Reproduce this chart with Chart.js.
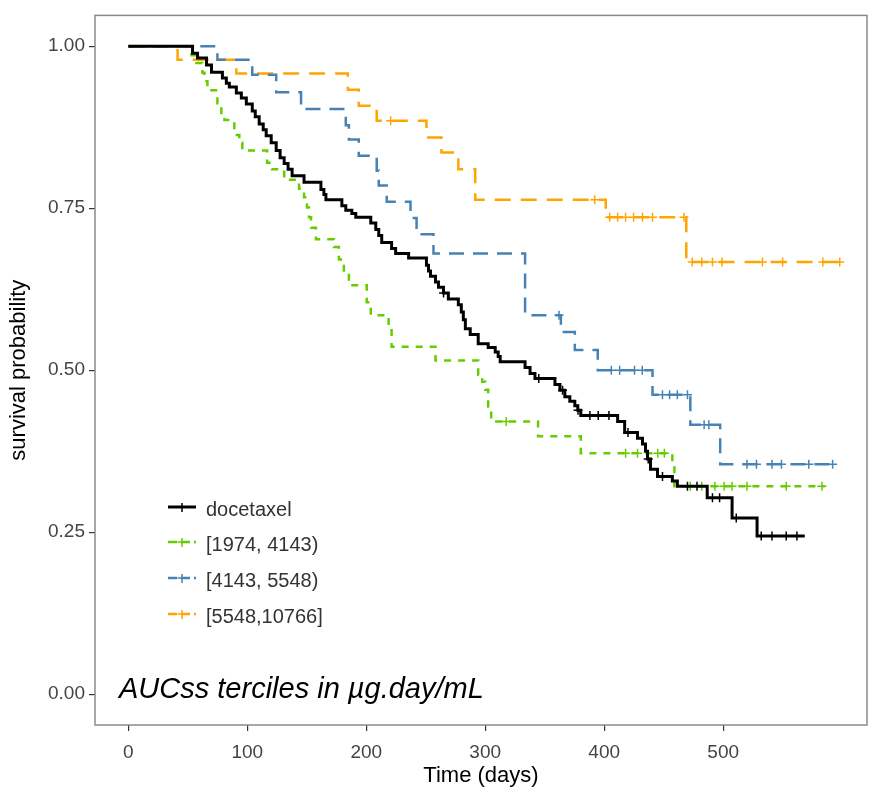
<!DOCTYPE html>
<html>
<head>
<meta charset="utf-8">
<script src="https://cdn.jsdelivr.net/npm/chart.js@4.4.1/dist/chart.umd.min.js"></script>
<style>
  html, body { margin: 0; padding: 0; background: #fff; }
  #wrap { width: 873px; height: 789px; }
</style>
</head>
<body>
<div id="wrap"><canvas id="km" width="873" height="789"></canvas></div>
<script>
// Kaplan-Meier curves: day where each level starts, and the survival level from that day on
var docetaxelTime = [0, 54.0, 58.2, 65.7, 69.9, 79.1, 82.4, 84.9, 90.8, 95.0, 99.2, 104.2, 106.7, 110.0, 113.4,
    115.9, 120.1, 124.3, 127.6, 131.0, 134.3, 137.7, 147.7, 161.9, 164.4, 166.1, 179.5, 182.8, 187.9, 191.2,
    203.8, 208.0, 210.5, 213.0, 221.3, 224.7, 235.6, 250.6, 252.3, 254.0, 258.2, 260.7, 264.9, 269.0, 277.4,
    279.9, 281.6, 283.3, 287.4, 294.1, 302.5, 308.4, 310.9, 312.6, 333.5, 337.7, 341.8, 358.6, 362.8, 366.9,
    371.1, 375.3, 377.8, 380.3, 411.3, 417.2, 428.0, 432.2, 434.7, 436.4, 438.9, 444.8, 457.3, 461.5, 486.6,
    507.5, 528.5];
var docetaxelSurv = [1, 0.989, 0.982, 0.971, 0.960, 0.951, 0.943, 0.937, 0.928, 0.920, 0.911, 0.900, 0.891, 0.880, 0.871,
    0.862, 0.851, 0.839, 0.828, 0.819, 0.810, 0.800, 0.790, 0.779, 0.771, 0.763, 0.754, 0.747, 0.742, 0.736,
    0.727, 0.717, 0.708, 0.697, 0.688, 0.680, 0.673, 0.662, 0.653, 0.645, 0.636, 0.628, 0.619, 0.610, 0.601,
    0.590, 0.578, 0.564, 0.555, 0.541, 0.535, 0.528, 0.521, 0.513, 0.504, 0.495, 0.487, 0.478, 0.469, 0.459,
    0.452, 0.445, 0.438, 0.430, 0.421, 0.404, 0.395, 0.386, 0.375, 0.363, 0.347, 0.336, 0.329, 0.321, 0.303,
    0.272, 0.244];
var docetaxelEnd = 568.6;
var docetaxelCensor = [265, 345, 365, 378, 388, 395, 404, 420, 437, 449, 470, 478, 491, 497, 511, 532, 541, 553, 562];

var lowTime = [0, 53.1, 57.3, 62.3, 64.0, 66.5, 74.9, 78.2, 80.8, 89.1, 93.3, 95.8, 116.7, 120.9, 131.0,
    143.5, 147.7, 150.2, 151.9, 153.6, 157.7, 172.8, 177.0, 181.2, 185.4, 200.4, 203.8, 218.8, 221.3, 258.2,
    294.1, 297.5, 300.0, 302.5, 305.0, 344.4, 380.3, 457.3, 459.0];
var lowSurv = [1, 0.986, 0.974, 0.959, 0.946, 0.932, 0.912, 0.897, 0.886, 0.863, 0.851, 0.839, 0.820, 0.810, 0.794,
    0.780, 0.767, 0.751, 0.736, 0.720, 0.702, 0.690, 0.671, 0.654, 0.631, 0.605, 0.585, 0.567, 0.536, 0.515,
    0.493, 0.482, 0.470, 0.444, 0.421, 0.398, 0.372, 0.356, 0.321];
var lowEnd = 585.4;
var lowCensor = [317.6, 418, 428, 445, 450.6, 472.4, 482, 493, 500.8, 507.5, 520, 553, 583];

var midTime = [0, 74.9, 104.2, 124.3, 145.2, 182.8, 185.4, 193.7, 208.8, 210.5, 217.2, 237.2, 242.3, 256.5,
    333.5, 363.6, 375.3, 394.6, 440.6, 472.4, 497.5];
var midSurv = [1, 0.979, 0.956, 0.929, 0.903, 0.878, 0.856, 0.831, 0.808, 0.785, 0.760, 0.735, 0.710, 0.680,
    0.585, 0.559, 0.531, 0.500, 0.462, 0.416, 0.355];
var midEnd = 593.7;
var midCensor = [362, 406, 413, 425.5, 432, 449, 455, 461.5, 470, 484, 488, 520, 528, 541, 549, 572, 592];

var highTime = [0, 41.4, 90.8, 184.5, 193.7, 208.8, 250.6, 263.2, 277.4, 291.6, 401.3, 469.0];
var highSurv = [1, 0.979, 0.958, 0.933, 0.908, 0.885, 0.859, 0.836, 0.810, 0.763, 0.736, 0.667];
var highEnd = 601.3;
var highCensor = [220.5, 392, 404.6, 411.3, 418, 424.7, 432.2, 440.6, 467, 474, 482, 491, 499, 533, 550, 583.8, 598];

var groupLabels = ['docetaxel', '[1974, 4143)', '[4143, 5548)', '[5548,10766]'];
var xTicks = [0, 100, 200, 300, 400, 500];
var yTicks = [0, 0.25, 0.5, 0.75, 1];

var FONT = '"Liberation Sans", Arial, sans-serif';

// series styles, same order as groupLabels
var styles = [
    { color: '#000000', width: 3, dash: [] },
    { color: '#66CC00', width: 2.5, dash: [7, 7] },
    { color: '#4682B4', width: 2.5, dash: [15, 9] },
    { color: '#FFA500', width: 2.5, dash: [16, 10] }
];

function stepPoints(times, surv, end) {
    var pts = times.map(function(t, i) { return { x: t, y: surv[i] }; });
    pts.push({ x: end, y: surv[surv.length - 1] });
    return pts;
}

// level of a step curve at day t
function survAt(times, surv, t) {
    var s = surv[0];
    for (var i = 0; i < times.length; i++) {
        if (times[i] <= t) s = surv[i];
    }
    return s;
}

function censorPoints(times, surv, censor) {
    return censor.map(function(t) { return { x: t, y: survAt(times, surv, t) }; });
}

var groups = [
    [docetaxelTime, docetaxelSurv, docetaxelEnd, docetaxelCensor],
    [lowTime, lowSurv, lowEnd, lowCensor],
    [midTime, midSurv, midEnd, midCensor],
    [highTime, highSurv, highEnd, highCensor]
];

var datasets = [];
groups.forEach(function(g, i) {
    var st = styles[i];
    datasets.push({
        label: groupLabels[i],
        data: stepPoints(g[0], g[1], g[2]),
        stepped: true,
        borderColor: st.color,
        borderWidth: st.width,
        borderDash: st.dash,
        pointRadius: 0,
        fill: false,
        order: i
    });
    datasets.push({
        label: groupLabels[i] + ' censored',
        data: censorPoints(g[0], g[1], g[3]),
        showLine: false,
        pointStyle: 'cross',
        pointRadius: 4.5,
        pointBorderWidth: 1.5,
        borderColor: st.color,
        backgroundColor: st.color,
        order: i
    });
});

// grey frame, legend keys and the AUC note
var decorations = {
    id: 'decorations',
    afterDraw: function(chart) {
        var ctx = chart.ctx;
        var a = chart.chartArea;
        ctx.save();
        ctx.strokeStyle = '#8a8a8a';
        ctx.lineWidth = 1.5;
        ctx.strokeRect(a.left, a.top, a.right - a.left, a.bottom - a.top);

        var rows = [507, 542, 578, 614];
        groupLabels.forEach(function(label, i) {
            var st = styles[i];
            var y = rows[i];
            ctx.strokeStyle = st.color;
            ctx.lineWidth = st.width;
            ctx.setLineDash(i === 0 ? [] : [9, 4]);
            ctx.beginPath();
            ctx.moveTo(168, y);
            ctx.lineTo(196, y);
            ctx.stroke();
            ctx.setLineDash([]);
            ctx.lineWidth = 1.5;
            ctx.beginPath();
            ctx.moveTo(182, y - 4);
            ctx.lineTo(182, y + 5);
            ctx.moveTo(177.5, y);
            ctx.lineTo(186.5, y);
            ctx.stroke();
            ctx.fillStyle = '#333333';
            ctx.font = '20px ' + FONT;
            ctx.textBaseline = 'middle';
            ctx.textAlign = 'left';
            ctx.fillText(label, 206, y + 3);
        });

        ctx.fillStyle = '#000000';
        ctx.font = 'italic 29px ' + FONT;
        ctx.textBaseline = 'alphabetic';
        ctx.fillText('AUCss terciles in \u00b5g.day/mL', 119, 698);
        ctx.restore();
    }
};

var kmCtx = document.getElementById('km').getContext('2d');
var kmChart = new Chart(kmCtx, {
    type: 'line',
    data: { datasets: datasets },
    options: {
        responsive: false,
        animation: false,
        layout: { padding: { top: 12, right: 1, left: 0, bottom: 0 } },
        plugins: {
            legend: { display: false },
            tooltip: { enabled: false }
        },
        scales: {
            x: {
                type: 'linear',
                min: -28,
                max: 620.9,
                afterBuildTicks: function(scale) {
                    scale.ticks = xTicks.map(function(v) { return { value: v }; });
                },
                afterFit: function(scale) { scale.height = 64; },
                grid: { drawOnChartArea: false, drawTicks: true, tickLength: 6, color: '#333333', lineWidth: 1.2 },
                border: { display: false },
                ticks: {
                    padding: 10,
                    color: '#444444',
                    font: { family: FONT, size: 19 },
                    maxRotation: 0
                },
                title: {
                    display: true,
                    text: 'Time (days)',
                    color: '#000000',
                    font: { family: FONT, size: 22 },
                    padding: { top: 0, bottom: 0 }
                }
            },
            y: {
                type: 'linear',
                min: -0.0476,
                max: 1.0476,
                afterBuildTicks: function(scale) {
                    scale.ticks = yTicks.map(function(v) { return { value: v }; });
                },
                afterFit: function(scale) { scale.width = 95; },
                grid: { drawOnChartArea: false, drawTicks: true, tickLength: 6, color: '#333333', lineWidth: 1.2 },
                border: { display: false },
                ticks: {
                    padding: 4,
                    color: '#444444',
                    font: { family: FONT, size: 19 },
                    callback: function(v) { return Number(v).toFixed(2); }
                },
                title: {
                    display: true,
                    text: 'survival probability',
                    color: '#000000',
                    font: { family: FONT, size: 22 },
                    padding: { top: 6, bottom: 0 }
                }
            }
        }
    },
    plugins: [decorations]
});
</script>
</body>
</html>
